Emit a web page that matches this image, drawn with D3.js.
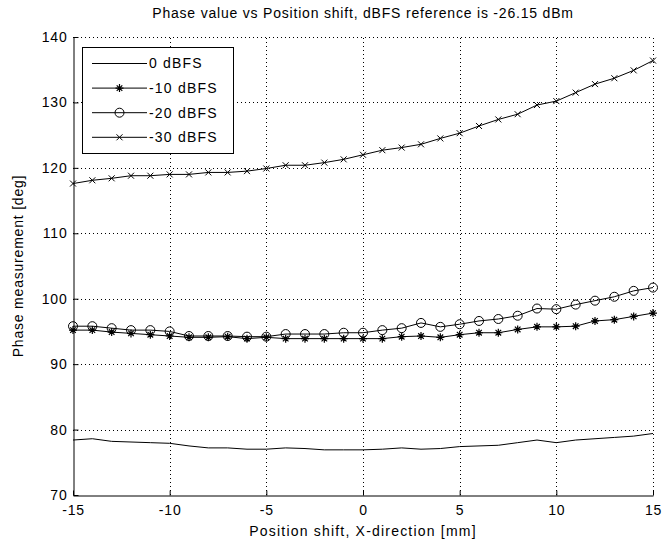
<!DOCTYPE html>
<html>
<head>
<meta charset="utf-8">
<script src="https://cdn.jsdelivr.net/npm/d3@7"></script>
<style>
  body { margin: 0; background: #fff; }
  svg { font-family: "Liberation Sans", Arial, sans-serif; }
</style>
</head>
<body>
<div id="chart"></div>
<script>
// x positions (mm)
const positions = d3.range(-15, 16);

const series0 = [78.4, 78.6, 78.2, 78.1, 78.0, 77.9, 77.5, 77.2, 77.2, 77.0, 77.0, 77.2, 77.1, 76.9, 76.9,
  76.9, 77.0, 77.2, 77.0, 77.1, 77.4, 77.5, 77.6, 78.0, 78.4, 78.0, 78.4, 78.6, 78.8, 79.0, 79.4];
const series10 = [95.2, 95.2, 94.9, 94.7, 94.5, 94.3, 94.1, 94.1, 94.2, 93.9, 94.1, 93.9, 93.9, 93.9, 93.9,
  93.9, 93.9, 94.2, 94.3, 94.1, 94.5, 94.8, 94.8, 95.3, 95.7, 95.7, 95.8, 96.6, 96.8, 97.3, 97.8];
const series20 = [95.8, 95.8, 95.5, 95.2, 95.2, 95.0, 94.3, 94.3, 94.3, 94.2, 94.2, 94.6, 94.6, 94.6, 94.8,
  94.8, 95.2, 95.5, 96.3, 95.7, 96.1, 96.6, 96.9, 97.4, 98.5, 98.4, 99.1, 99.7, 100.3, 101.2, 101.7];
const series30 = [117.6, 118.1, 118.4, 118.8, 118.8, 119.0, 119.0, 119.3, 119.3, 119.5, 119.9, 120.4, 120.4, 120.8, 121.3,
  122.0, 122.7, 123.1, 123.6, 124.5, 125.3, 126.4, 127.4, 128.2, 129.6, 130.2, 131.5, 132.8, 133.7, 134.9, 136.4];

const seriesNames = ['0 dBFS', '-10 dBFS', '-20 dBFS', '-30 dBFS'];
const seriesMarkers = ['none', 'star', 'circle', 'x'];
const seriesValues = [series0, series10, series20, series30];

const xTicks = [-15, -10, -5, 0, 5, 10, 15];
const yTicks = [70, 80, 90, 100, 110, 120, 130, 140];

const width = 663, height = 541;
const margin = { top: 37, right: 10, bottom: 46, left: 73 };
const fontSize = '14px';
const spacing = '0.8px';

const svg = d3.select('#chart')
  .append('svg')
  .attr('width', width)
  .attr('height', height);

const x = d3.scaleLinear().domain([-15, 15]).range([margin.left, 653]);
const y = d3.scaleLinear().domain([70, 140]).range([495, margin.top]);

// grid
const grid = svg.append('g')
  .attr('stroke', '#000')
  .attr('stroke-width', 1)
  .attr('stroke-dasharray', '1,3')
  .attr('shape-rendering', 'crispEdges');

grid.selectAll('.gx')
  .data(xTicks.slice(1))
  .enter()
  .append('line')
  .attr('x1', d => Math.round(x(d)) + 0.5)
  .attr('x2', d => Math.round(x(d)) + 0.5)
  .attr('y1', y(70))
  .attr('y2', y(140));

grid.selectAll('.gy')
  .data(yTicks.slice(1))
  .enter()
  .append('line')
  .attr('x1', x(-15))
  .attr('x2', x(15))
  .attr('y1', d => Math.round(y(d)) + 0.5)
  .attr('y2', d => Math.round(y(d)) + 0.5);

// axes (plain hyphen for negatives, like the original)
const xAxis = svg.append('g')
  .attr('transform', `translate(0, ${Math.round(y(70)) + 0.5})`)
  .call(d3.axisBottom(x).tickValues(xTicks).tickFormat(d => String(d))
    .tickSizeInner(-5).tickSizeOuter(0).tickPadding(10));

const yAxis = svg.append('g')
  .attr('transform', `translate(${Math.round(x(-15)) + 0.5}, 0)`)
  .call(d3.axisLeft(y).tickValues(yTicks).tickFormat(d => String(d))
    .tickSizeInner(-5).tickSizeOuter(0).tickPadding(6));

[xAxis, yAxis].forEach(a => {
  a.selectAll('text')
    .attr('font-size', fontSize)
    .attr('letter-spacing', spacing)
    .attr('font-family', '"Liberation Sans", Arial, sans-serif')
    .attr('fill', '#000');
  a.selectAll('line, path').attr('stroke', '#000');
});

// lines
const line = d3.line()
  .x((d, i) => x(positions[i]))
  .y(d => y(d));

function drawMarker(g, type, cx, cy) {
  if (type === 'circle') {
    g.append('circle')
      .attr('cx', cx).attr('cy', cy).attr('r', 4.5)
      .attr('fill', 'none').attr('stroke', '#000');
  } else if (type === 'star') {
    const s = 4;
    g.append('path')
      .attr('d', `M${cx - s},${cy}L${cx + s},${cy}M${cx},${cy - s}L${cx},${cy + s}` +
        `M${cx - s * 0.7},${cy - s * 0.7}L${cx + s * 0.7},${cy + s * 0.7}` +
        `M${cx - s * 0.7},${cy + s * 0.7}L${cx + s * 0.7},${cy - s * 0.7}`)
      .attr('stroke', '#000').attr('stroke-width', 1.2);
  } else if (type === 'x') {
    const s = 3;
    g.append('path')
      .attr('d', `M${cx - s},${cy - s}L${cx + s},${cy + s}M${cx - s},${cy + s}L${cx + s},${cy - s}`)
      .attr('stroke', '#000');
  }
}

seriesValues.forEach((vals, k) => {
  const g = svg.append('g');
  g.append('path')
    .datum(vals)
    .attr('d', line)
    .attr('fill', 'none')
    .attr('stroke', '#000')
    .attr('stroke-width', 1);
  vals.forEach((v, i) => drawMarker(g, seriesMarkers[k], x(positions[i]), y(v)));
});

// legend
const legend = svg.append('g');
legend.append('rect')
  .attr('x', 82.5).attr('y', 47.5)
  .attr('width', 151).attr('height', 106)
  .attr('fill', '#fff').attr('stroke', '#000');

seriesNames.forEach((name, i) => {
  const ly = 63.5 + i * 24.6;
  legend.append('line')
    .attr('x1', 92).attr('x2', 147)
    .attr('y1', ly).attr('y2', ly)
    .attr('stroke', '#000');
  drawMarker(legend, seriesMarkers[i], 119.5, ly);
  legend.append('text')
    .attr('x', 149).attr('y', ly)
    .attr('dy', '0.35em')
    .attr('font-size', fontSize)
    .attr('letter-spacing', '1.2px')
    .text(name);
});

// titles
svg.append('text')
  .attr('x', (x(-15) + x(15)) / 2)
  .attr('y', 18)
  .attr('text-anchor', 'middle')
  .attr('font-size', fontSize)
  .attr('letter-spacing', spacing)
  .text('Phase value vs Position shift, dBFS reference is -26.15 dBm');

svg.append('text')
  .attr('x', (x(-15) + x(15)) / 2)
  .attr('y', 536)
  .attr('text-anchor', 'middle')
  .attr('font-size', fontSize)
  .attr('letter-spacing', '1.2px')
  .text('Position shift, X-direction [mm]');

svg.append('text')
  .attr('transform', `translate(23, ${(y(70) + y(140)) / 2}) rotate(-90)`)
  .attr('text-anchor', 'middle')
  .attr('font-size', fontSize)
  .attr('letter-spacing', spacing)
  .text('Phase measurement [deg]');
</script>
</body>
</html>
